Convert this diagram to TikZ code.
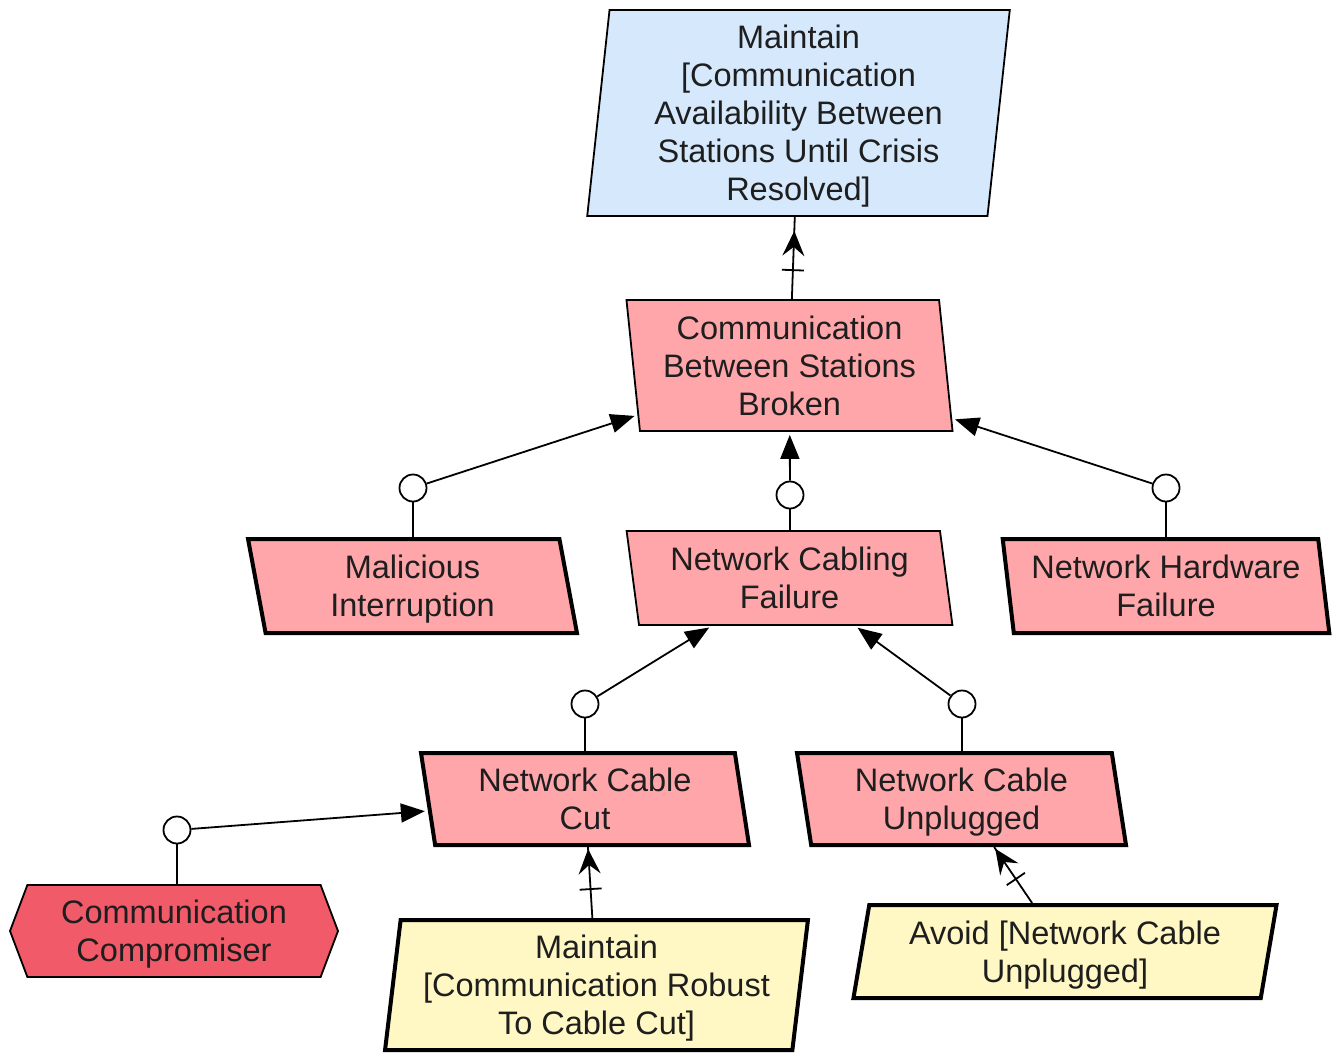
\documentclass[tikz,border=0pt]{standalone}
\usepackage{fontspec}
\setmainfont{Liberation Sans}
\usetikzlibrary{shapes.geometric,shapes.symbols,arrows.meta,decorations.markings}
\definecolor{goalblue}{HTML}{D5E8FC}
\definecolor{obstpink}{HTML}{FFA6AA}
\definecolor{agentred}{HTML}{F05A69}
\definecolor{reqyellow}{HTML}{FFF8C4}
\definecolor{ink}{HTML}{1E1E1E}
% last line of a label without depth, so descenders do not move the label up
\newcommand\nodepthline[1]{\raisebox{0pt}[\height][0pt]{#1}}
\tikzset{
  every node/.style={font=\fontsize{32.5}{38}\selectfont, text=ink, align=center, inner sep=0pt},
  parbox/.style={trapezium, trapezium stretches=true, draw=black},
  thinrim/.style={line width=1.8pt},
  thickrim/.style={line width=4pt},
  goalbox/.style={parbox, thinrim, fill=goalblue},
  obstacle/.style={parbox, thinrim, fill=obstpink},
  leafobstacle/.style={parbox, thickrim, fill=obstpink},
  requirement/.style={parbox, thickrim, fill=reqyellow},
  agent/.style={signal, signal to=west and east, signal pointer angle=138.6,
    draw=black, thinrim, fill=agentred},
  junction/.style={circle, draw=black, fill=white, line width=1.8pt, minimum size=27pt, inner sep=0pt},
  link/.style={line width=1.8pt, draw=black},
  refine/.style={link, -{Triangle[length=24pt,width=19pt]}, shorten >=3pt},
  contrib/.style={link, postaction={decorate},
    decoration={markings,
      mark=at position 29pt with {\draw[arrows=-, line width=1.8pt] (0pt,-11pt) -- (0pt,11pt);},
      mark=at position {-#1} with {\arrow[line width=1.8pt]{Stealth[length=25pt,width=22pt,inset=9pt]}}}},
  contrib/.default=1pt,
}
\begin{document}
\begin{tikzpicture}[x=1pt,y=-1pt]
\useasboundingbox (0,0) rectangle (1340,1052);

% goal
\node[goalbox, minimum width=423pt, minimum height=206pt,
      trapezium left angle=84.46, trapezium right angle=95.54]
  (goal) at (798.5,113) {Maintain\\{}[Communication\\Availability Between\\Stations Until Crisis\\\nodepthline{Resolved]}};

% obstacles
\node[obstacle, minimum width=327pt, minimum height=131pt,
      trapezium left angle=96.53, trapezium right angle=83.47]
  (broken) at (789.5,365.5) {Communication\\Between Stations\\\nodepthline{Broken}};
\node[leafobstacle, minimum width=329pt, minimum height=94pt,
      trapezium left angle=99.07, trapezium right angle=80.93]
  (malicious) at (412.5,586) {Malicious\\\nodepthline{Interruption}};
\node[obstacle, minimum width=327pt, minimum height=94pt,
      trapezium left angle=99.07, trapezium right angle=80.93]
  (cabling) at (789.5,578) {Network Cabling\\\nodepthline{Failure}};
\node[leafobstacle, minimum width=328pt, minimum height=94pt,
      trapezium left angle=99.07, trapezium right angle=80.93]
  (hardware) at (1166,586) {Network Hardware\\\nodepthline{Failure}};
\node[leafobstacle, minimum width=328pt, minimum height=92pt,
      trapezium left angle=99.26, trapezium right angle=80.74]
  (cut) at (585,799) {Network Cable\\\nodepthline{Cut}};
\node[leafobstacle, minimum width=329pt, minimum height=92pt,
      trapezium left angle=99.26, trapezium right angle=80.74]
  (unplugged) at (961.5,799) {Network Cable\\\nodepthline{Unplugged}};

% agent
\node[agent, minimum width=328pt, minimum height=92pt]
  (compromiser) at (174,931) {Communication\\\nodepthline{Compromiser}};

% requirements
\node[requirement, minimum width=423pt, minimum height=130pt,
      trapezium left angle=82.12, trapezium right angle=97.88]
  (robust) at (596.5,985) {Maintain\\{}[Communication Robust\\\nodepthline{To Cable Cut]}};
\node[requirement, minimum width=424pt, minimum height=93pt,
      trapezium left angle=78.45, trapezium right angle=101.55]
  (avoid) at (1065,951.5) {Avoid [Network Cable\\\nodepthline{Unplugged]}};

% refinement junctions
\node[junction] (jmal) at (413,488) {};
\node[junction] (jcab) at (790,495) {};
\node[junction] (jhw) at (1166,488) {};
\node[junction] (jcut) at (585,704) {};
\node[junction] (junp) at (962,704) {};
\node[junction] (jcomp) at (177,830) {};

% stems from child to junction
\draw[link] (jmal |- malicious.north) -- (jmal);
\draw[link] (jcab |- cabling.north) -- (jcab);
\draw[link] (jhw |- hardware.north) -- (jhw);
\draw[link] (jcut |- cut.north) -- (jcut);
\draw[link] (junp |- unplugged.north) -- (junp);
\draw[link] (jcomp |- compromiser.north) -- (jcomp);

% junction to parent
\draw[refine] (jmal) -- (broken);
\draw[refine] (jcab) -- (broken);
\draw[refine] (jhw) -- (broken);
\draw[refine] (jcut) -- (cabling);
\draw[refine] (junp) -- (cabling);
\draw[refine] (jcomp) -- (cut);

% contribution links
\draw[contrib=14pt] (broken) -- (goal);
\draw[contrib=2pt] (robust) -- (cut);
\draw[contrib=2pt] (avoid) -- (unplugged);
\end{tikzpicture}
\end{document}
